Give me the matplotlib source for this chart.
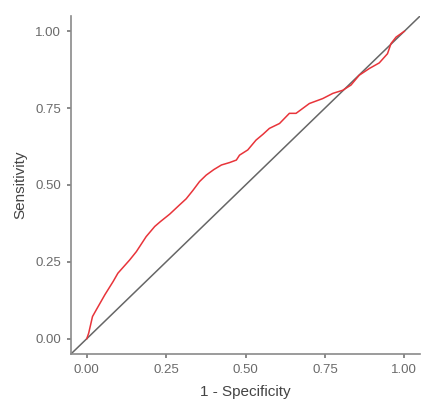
import matplotlib
matplotlib.use("Agg")
import matplotlib.pyplot as plt

# ROC curve points (1 - specificity, sensitivity)
fpr = [0.000, 0.006, 0.018, 0.030, 0.057, 0.083, 0.098, 0.135, 0.156, 0.187,
       0.214, 0.232, 0.261, 0.292, 0.313, 0.334, 0.355, 0.376, 0.400, 0.424,
       0.450, 0.471, 0.481, 0.507, 0.533, 0.555, 0.575, 0.607, 0.638, 0.659,
       0.701, 0.743, 0.775, 0.806, 0.832, 0.858, 0.890, 0.921, 0.947, 0.958,
       0.974, 1.000]
tpr = [0.000, 0.018, 0.072, 0.094, 0.143, 0.186, 0.213, 0.256, 0.283, 0.332,
       0.365, 0.381, 0.405, 0.435, 0.455, 0.482, 0.511, 0.532, 0.550, 0.565,
       0.573, 0.581, 0.597, 0.614, 0.646, 0.665, 0.684, 0.700, 0.733, 0.733,
       0.765, 0.781, 0.798, 0.808, 0.825, 0.857, 0.879, 0.897, 0.927, 0.960,
       0.981, 1.000]
ticks = [0.0, 0.25, 0.5, 0.75, 1.0]
tick_labels = ["0.00", "0.25", "0.50", "0.75", "1.00"]

plt.rcParams["font.family"] = ["Liberation Sans", "DejaVu Sans"]

fig = plt.figure(figsize=(4.35, 4.18), dpi=100)
ax = fig.add_axes([0.163, 0.153, 0.803, 0.809])

lims = (-0.05, 1.05)
ax.plot(lims, lims, color="#666666", lw=1.1)
ax.plot(fpr, tpr, color="#E8343A", lw=1.1)

ax.set_xlim(lims)
ax.set_ylim(lims)
ax.set_xticks(ticks)
ax.set_xticklabels(tick_labels)
ax.set_yticks(ticks)
ax.set_yticklabels(tick_labels)

for s in ["top", "right"]:
    ax.spines[s].set_visible(False)
for s in ["left", "bottom"]:
    ax.spines[s].set_color("#8a8a8a")
    ax.spines[s].set_linewidth(1.2)
ax.tick_params(colors="#6a6a6a", labelsize=9.5, length=3, width=1.1, pad=4)

ax.set_xlabel("1 - Specificity", fontsize=11, color="#444444", labelpad=7)
ax.set_ylabel("Sensitivity", fontsize=11, color="#444444", labelpad=6)

fig.savefig("out.png", dpi=100)
